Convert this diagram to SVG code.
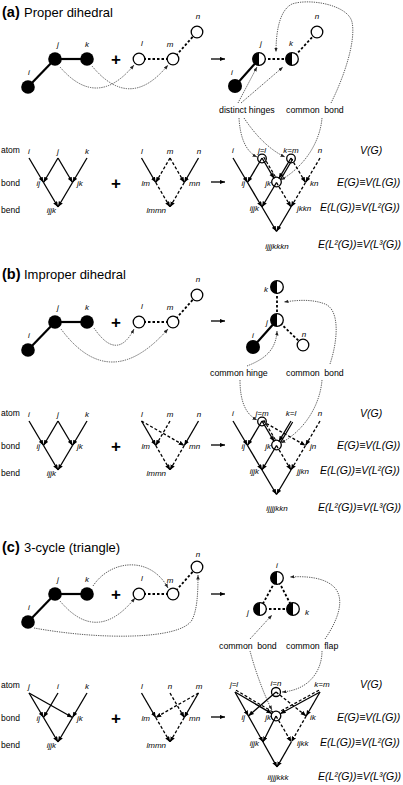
<svg xmlns="http://www.w3.org/2000/svg" width="403" height="785" viewBox="0 0 403 785">
<defs>
<marker id="ah" markerUnits="userSpaceOnUse" markerWidth="6" markerHeight="5" refX="5.5" refY="2.25" orient="auto"><path d="M0,0 L5.5,2.25 L0,4.5 z" fill="#000"/></marker>
<marker id="ag" markerUnits="userSpaceOnUse" markerWidth="5" markerHeight="4" refX="4.5" refY="1.75" orient="auto"><path d="M0,0 L4.5,1.75 L0,3.5 z" fill="#222"/></marker>
<style>
text{font-family:"Liberation Sans",Arial,sans-serif;fill:#000}
.ttl{font-size:13px}
.tb{font-size:14.5px;font-weight:bold}
.lb{font-size:8px;font-style:italic;text-anchor:middle}
.le{font-size:8px;font-style:italic;text-anchor:end}
.ls{font-size:8px;font-style:italic}
.row{font-size:8.5px}
.ann{font-size:8.8px}
.eq{font-size:10.5px;font-style:italic}
.plus{font-size:17px;font-weight:bold;text-anchor:middle}
.sb{stroke:#000;stroke-width:2.2}
.db{stroke:#000;stroke-width:1.8;stroke-dasharray:2.5 2}
.ar{stroke:#000;stroke-width:1.3;marker-end:url(#ah);fill:none}
.ad{stroke:#000;stroke-width:1.3;stroke-dasharray:3 2;marker-end:url(#ah);fill:none}
.p1{stroke:#000;stroke-width:1.2;fill:none}
.p2{stroke:#000;stroke-width:1.2;stroke-dasharray:3 2;fill:none}
.g{stroke:#333;stroke-width:0.8;stroke-dasharray:1.3 1;fill:none;marker-end:url(#ag)}
.bk{fill:#000}
.op{fill:#fff;stroke:#000;stroke-width:1.3}
.ring{fill:none;stroke:#000;stroke-width:1.3}
</style>
</defs>
<rect width="403" height="785" fill="#fff"/>

<!-- ================= CONNECTORS ================= -->
<g id="connectors">
<!-- (a) molecules -->
<line x1="28" y1="87" x2="55" y2="59" class="sb"/>
<line x1="55" y1="59" x2="87" y2="59" class="sb"/>
<line x1="139" y1="59" x2="173" y2="59" class="db"/>
<line x1="173" y1="59" x2="197" y2="32" class="db"/>
<path d="M60,67 Q97,110 134,65" class="g"/>
<path d="M92,66 Q130,112 168,65" class="g"/>
<line x1="211" y1="59" x2="225" y2="59" class="ar"/>
<line x1="235" y1="86" x2="259" y2="59" class="sb"/>
<line x1="259" y1="59" x2="292" y2="59" class="db"/>
<line x1="292" y1="59" x2="317" y2="32" class="db"/>
<line x1="238" y1="103" x2="257" y2="67" class="g"/>
<line x1="241" y1="103" x2="283" y2="67" class="g"/>
<path d="M331,103 C345,75 356,40 352,22 C348,5 310,-2 292,4 C280,10 276,30 276,52" class="g"/>
<!-- (a) graphs -->
<line x1="29" y1="158" x2="43.5" y2="182.5" class="ar"/>
<line x1="58" y1="158" x2="43.5" y2="182.5" class="ar"/>
<line x1="58" y1="158" x2="72.5" y2="182.5" class="ar"/>
<line x1="87" y1="158" x2="72.5" y2="182.5" class="ar"/>
<line x1="43.5" y1="182.5" x2="58" y2="207" class="ar"/>
<line x1="72.5" y1="182.5" x2="58" y2="207" class="ar"/>
<line x1="141.5" y1="158" x2="155.75" y2="182.5" class="ar"/>
<line x1="170" y1="158" x2="155.75" y2="182.5" class="ad"/>
<line x1="170" y1="158" x2="184.25" y2="182.5" class="ad"/>
<line x1="198.5" y1="158" x2="184.25" y2="182.5" class="ar"/>
<line x1="155.75" y1="182.5" x2="170" y2="207" class="ad"/>
<line x1="184.25" y1="182.5" x2="170" y2="207" class="ad"/>
<line x1="211" y1="182" x2="225" y2="182" class="ar"/>
<line x1="233" y1="158" x2="247.5" y2="182.5" class="ar"/>
<line x1="247.5" y1="182.5" x2="262" y2="207" class="ar"/>
<line x1="262" y1="207" x2="276.5" y2="231.5" class="ar"/>
<line x1="262" y1="158" x2="247.5" y2="182.5" class="ar"/>
<line x1="262" y1="158" x2="274.2" y2="178.6" class="ar"/>
<line x1="263.7" y1="157" x2="275.9" y2="177.6" class="p2"/>
<line x1="291" y1="158" x2="278.8" y2="178.6" class="ar"/>
<line x1="292.7" y1="159" x2="280.5" y2="179.6" class="p1"/>
<line x1="291" y1="158" x2="305.5" y2="182.5" class="ad"/>
<line x1="320" y1="158" x2="305.5" y2="182.5" class="ad"/>
<line x1="276.5" y1="182.5" x2="262" y2="207" class="ar"/>
<line x1="276.5" y1="182.5" x2="291" y2="207" class="ad"/>
<line x1="305.5" y1="182.5" x2="291" y2="207" class="ad"/>
<line x1="291" y1="207" x2="276.5" y2="231.5" class="ar"/>
<path d="M239,118 C240,136 245,151 257,157" class="g"/>
<path d="M244,118 C256,136 270,150 285,157" class="g"/>
<path d="M322,118 C320,142 305,166 281,180" class="g"/>

<!-- (b) molecules -->
<line x1="28" y1="350" x2="55" y2="322" class="sb"/>
<line x1="55" y1="322" x2="87" y2="322" class="sb"/>
<line x1="139" y1="322" x2="173" y2="322" class="db"/>
<line x1="173" y1="322" x2="197" y2="295" class="db"/>
<path d="M94,328 Q117,362 134,329" class="g"/>
<path d="M61,329 Q110,395 168,329" class="g"/>
<line x1="211" y1="321" x2="225" y2="321" class="ar"/>
<line x1="277" y1="287" x2="277" y2="320" class="db"/>
<line x1="277" y1="320" x2="253" y2="347" class="sb"/>
<line x1="277" y1="320" x2="303" y2="345" class="db"/>
<path d="M247,366 C262,360 276,352 277,331" class="g"/>
<path d="M330,364 C338,340 340,310 325,304 C312,299 298,300 284,302" class="g"/>
<!-- (b) graphs -->
<line x1="29" y1="421" x2="43.5" y2="445.5" class="ar"/>
<line x1="58" y1="421" x2="43.5" y2="445.5" class="ar"/>
<line x1="58" y1="421" x2="72.5" y2="445.5" class="ar"/>
<line x1="87" y1="421" x2="72.5" y2="445.5" class="ar"/>
<line x1="43.5" y1="445.5" x2="58" y2="470" class="ar"/>
<line x1="72.5" y1="445.5" x2="58" y2="470" class="ar"/>
<line x1="141.5" y1="421" x2="155.75" y2="445.5" class="ar"/>
<line x1="141.5" y1="421" x2="184.25" y2="445.5" class="ad"/>
<line x1="170" y1="421" x2="155.75" y2="445.5" class="ad"/>
<line x1="198.5" y1="421" x2="184.25" y2="445.5" class="ar"/>
<line x1="155.75" y1="445.5" x2="170" y2="470" class="ad"/>
<line x1="184.25" y1="445.5" x2="170" y2="470" class="ad"/>
<line x1="211" y1="445" x2="225" y2="445" class="ar"/>
<line x1="233" y1="421" x2="247.5" y2="445.5" class="ar"/>
<line x1="247.5" y1="445.5" x2="262" y2="470" class="ar"/>
<line x1="262" y1="470" x2="276.5" y2="494.5" class="ar"/>
<line x1="262" y1="421" x2="247.5" y2="445.5" class="ar"/>
<line x1="262" y1="421" x2="274.2" y2="441.6" class="ar"/>
<line x1="263.7" y1="420" x2="275.9" y2="440.6" class="p2"/>
<line x1="262" y1="421" x2="305.5" y2="445.5" class="ad"/>
<line x1="291" y1="421" x2="278.8" y2="441.6" class="ar"/>
<line x1="292.7" y1="422" x2="280.5" y2="442.6" class="p1"/>
<line x1="320" y1="421" x2="305.5" y2="445.5" class="ad"/>
<line x1="276.5" y1="445.5" x2="262" y2="470" class="ar"/>
<line x1="276.5" y1="445.5" x2="291" y2="470" class="ad"/>
<line x1="305.5" y1="445.5" x2="291" y2="470" class="ad"/>
<line x1="291" y1="470" x2="276.5" y2="494.5" class="ar"/>
<path d="M240,380 C240,400 245,414 257,420" class="g"/>
<path d="M322,380 C320,405 305,430 281,443" class="g"/>

<!-- (c) molecules -->
<line x1="28" y1="622" x2="55" y2="594" class="sb"/>
<line x1="55" y1="594" x2="87" y2="594" class="sb"/>
<line x1="139" y1="594" x2="173" y2="594" class="db"/>
<line x1="173" y1="594" x2="197" y2="567" class="db"/>
<path d="M93,586 C110,560 150,555 168,588" class="g"/>
<path d="M60,601 Q97,645 135,598" class="g"/>
<path d="M34,628 C100,640 180,640 192,620 C197,610 198,595 198,575" class="g"/>
<line x1="211" y1="594" x2="225" y2="594" class="ar"/>
<line x1="277" y1="578" x2="260" y2="609" class="db"/>
<line x1="277" y1="578" x2="293" y2="609" class="db"/>
<line x1="260" y1="609" x2="293" y2="609" class="db"/>
<line x1="250" y1="639" x2="272" y2="615" class="g"/>
<path d="M325,639 C338,620 345,600 335,588 C325,577 305,576 290,577" class="g"/>
<!-- (c) graphs -->
<line x1="29" y1="693" x2="43.5" y2="717.5" class="ar"/>
<line x1="29" y1="693" x2="72.5" y2="717.5" class="ar"/>
<line x1="58" y1="693" x2="43.5" y2="717.5" class="ar"/>
<line x1="87" y1="693" x2="72.5" y2="717.5" class="ar"/>
<line x1="43.5" y1="717.5" x2="58" y2="742" class="ar"/>
<line x1="72.5" y1="717.5" x2="58" y2="742" class="ar"/>
<line x1="141.5" y1="693" x2="155.75" y2="717.5" class="ar"/>
<line x1="170" y1="693" x2="184.25" y2="717.5" class="ad"/>
<line x1="198.5" y1="693" x2="155.75" y2="717.5" class="ad"/>
<line x1="198.5" y1="693" x2="184.25" y2="717.5" class="ar"/>
<line x1="155.75" y1="717.5" x2="170" y2="742" class="ad"/>
<line x1="184.25" y1="717.5" x2="170" y2="742" class="ad"/>
<line x1="211" y1="717" x2="225" y2="717" class="ar"/>
<line x1="235" y1="692" x2="248.4" y2="716" class="ar"/>
<line x1="248.4" y1="716" x2="263" y2="742" class="ar"/>
<line x1="263" y1="742" x2="277" y2="767" class="ar"/>
<line x1="235" y1="692" x2="271.9" y2="713.6" class="ar"/>
<line x1="236" y1="690.3" x2="272.9" y2="711.9" class="p2"/>
<line x1="276" y1="692" x2="248.4" y2="716" class="ar"/>
<line x1="276" y1="692" x2="306.2" y2="716" class="ad"/>
<line x1="320" y1="692" x2="280.2" y2="713.7" class="ar"/>
<line x1="319" y1="690.2" x2="279.2" y2="711.9" class="p2"/>
<line x1="320" y1="692" x2="306.2" y2="716" class="ar"/>
<line x1="306.2" y1="716" x2="291.3" y2="742" class="ad"/>
<line x1="276" y1="716" x2="263" y2="742" class="ar"/>
<line x1="276" y1="716" x2="291.3" y2="742" class="ad"/>
<line x1="291.3" y1="742" x2="277" y2="767" class="ar"/>
<path d="M250,651 C255,670 264,695 272,710" class="g"/>
<path d="M322,651 C322,670 310,690 282,692" class="g"/>
</g>

<!-- ================= PANEL (a) ================= -->
<g id="title-a"><text x="2" y="17" class="tb">(a)</text><text x="24" y="17" class="ttl">Proper dihedral</text></g>
<g id="a-i"><circle cx="28" cy="87" r="6.8" class="bk"/><text x="29" y="75" class="lb">i</text></g>
<g id="a-j"><circle cx="55" cy="59" r="6.8" class="bk"/><text x="58" y="47" class="lb">j</text></g>
<g id="a-k"><circle cx="87" cy="59" r="6.8" class="bk"/><text x="87" y="47" class="lb">k</text></g>
<g id="a-plus1"><text x="116" y="65" class="plus">+</text></g>
<g id="a-l"><circle cx="139" cy="59" r="5.8" class="op"/><text x="142" y="46" class="lb">l</text></g>
<g id="a-m"><circle cx="173" cy="59" r="5.8" class="op"/><text x="170" y="47" class="lb">m</text></g>
<g id="a-n"><circle cx="197" cy="32" r="5.8" class="op"/><text x="198" y="19" class="lb">n</text></g>
<g id="a-ri"><circle cx="235" cy="86" r="7" class="bk"/><text x="232" y="75" class="lb">i</text></g>
<g id="a-rj"><circle cx="259" cy="59" r="6.3" class="op"/><path d="M259,52.7 A6.3,6.3 0 0 0 259,65.3 Z" class="bk"/><text x="261" y="46" class="lb">j</text></g>
<g id="a-rk"><circle cx="292" cy="59" r="6.3" class="op"/><path d="M292,52.7 A6.3,6.3 0 0 0 292,65.3 Z" class="bk"/><text x="291" y="46" class="lb">k</text></g>
<g id="a-rn"><circle cx="317" cy="32" r="5.8" class="op"/><text x="317" y="19" class="lb">n</text></g>
<g id="a-ann"><text x="219" y="113" class="ann">distinct hinges</text><text x="286" y="113" class="ann" word-spacing="2">common bond</text></g>
<g id="a-rows"><text x="1" y="153" class="row">atom</text><text x="1" y="186" class="row">bond</text><text x="1" y="213" class="row">bend</text></g>
<g id="a-g1"><text x="29" y="154" class="lb">i</text><text x="58" y="154" class="lb">j</text><text x="87" y="154" class="lb">k</text><text x="40" y="186" class="le">ij</text><text x="77" y="186" class="ls">jk</text><text x="56" y="213" class="le">ijjk</text></g>
<g id="a-plus2"><text x="116" y="189" class="plus">+</text></g>
<g id="a-g2"><text x="142" y="154" class="lb">l</text><text x="170" y="154" class="lb">m</text><text x="199" y="154" class="lb">n</text><text x="150" y="186" class="le">lm</text><text x="189" y="186" class="ls">mn</text><text x="166" y="213" class="le">lmmn</text></g>
<g id="a-v-i"><text x="233" y="153" class="lb">i</text></g>
<g id="a-v-jl"><circle cx="262" cy="158.5" r="4.3" class="ring"/><text x="262" y="152.5" class="lb">j=l</text></g>
<g id="a-v-km"><circle cx="291" cy="158.5" r="4.3" class="ring"/><text x="291" y="152.5" class="lb">k=m</text></g>
<g id="a-v-n"><text x="320" y="153" class="lb">n</text></g>
<g id="a-v-ij"><text x="245" y="186" class="le">ij</text></g>
<g id="a-v-jk"><circle cx="276.5" cy="182" r="4.8" class="ring"/><text x="271" y="186" class="le">jk</text></g>
<g id="a-v-kn"><text x="310" y="186" class="ls">kn</text></g>
<g id="a-v-ijjk"><text x="259" y="211" class="le">ijjk</text></g>
<g id="a-v-jkkn"><text x="297" y="211" class="ls">jkkn</text></g>
<g id="a-v-bot"><text x="277" y="249" class="lb">ijjjkkkn</text></g>
<g id="a-eq"><text x="360" y="154" class="eq">V(G)</text><text x="337" y="186" class="eq">E(G)≡V(L(G))</text><text x="320" y="211" class="eq">E(L(G))≡V(L²(G))</text><text x="318" y="248" class="eq">E(L²(G))≡V(L³(G))</text></g>

<!-- ================= PANEL (b) ================= -->
<g id="title-b"><text x="2" y="279" class="tb">(b)</text><text x="24" y="279" class="ttl">Improper dihedral</text></g>
<g id="b-i"><circle cx="28" cy="350" r="6.8" class="bk"/><text x="29" y="338" class="lb">i</text></g>
<g id="b-j"><circle cx="55" cy="322" r="6.8" class="bk"/><text x="58" y="310" class="lb">j</text></g>
<g id="b-k"><circle cx="87" cy="322" r="6.8" class="bk"/><text x="87" y="310" class="lb">k</text></g>
<g id="b-plus1"><text x="116" y="328" class="plus">+</text></g>
<g id="b-l"><circle cx="139" cy="322" r="5.8" class="op"/><text x="142" y="309" class="lb">l</text></g>
<g id="b-m"><circle cx="173" cy="322" r="5.8" class="op"/><text x="170" y="310" class="lb">m</text></g>
<g id="b-n"><circle cx="197" cy="295" r="5.8" class="op"/><text x="198" y="282" class="lb">n</text></g>
<g id="b-rk"><circle cx="277" cy="287" r="6.3" class="op"/><path d="M277,280.7 A6.3,6.3 0 0 0 277,293.3 Z" class="bk"/><text x="266" y="292" class="lb">k</text></g>
<g id="b-rj"><circle cx="277" cy="320" r="6.3" class="op"/><path d="M277,313.7 A6.3,6.3 0 0 0 277,326.3 Z" class="bk"/><text x="267" y="325" class="lb">j</text></g>
<g id="b-ri"><circle cx="253" cy="347" r="7" class="bk"/><text x="253" y="337.5" class="lb">i</text></g>
<g id="b-rn"><circle cx="303" cy="345" r="5.8" class="op"/><text x="304" y="337" class="lb">n</text></g>
<g id="b-ann"><text x="210" y="376" class="ann">common hinge</text><text x="286" y="376" class="ann" word-spacing="2">common bond</text></g>
<g id="b-rows"><text x="1" y="416" class="row">atom</text><text x="1" y="449" class="row">bond</text><text x="1" y="476" class="row">bend</text></g>
<g id="b-g1"><text x="29" y="417" class="lb">i</text><text x="58" y="417" class="lb">j</text><text x="87" y="417" class="lb">k</text><text x="40" y="449" class="le">ij</text><text x="77" y="449" class="ls">jk</text><text x="56" y="476" class="le">ijjk</text></g>
<g id="b-plus2"><text x="116" y="452" class="plus">+</text></g>
<g id="b-g2"><text x="142" y="417" class="lb">l</text><text x="170" y="417" class="lb">m</text><text x="199" y="417" class="lb">n</text><text x="150" y="449" class="le">lm</text><text x="189" y="449" class="ls">mn</text><text x="166" y="476" class="le">lmmn</text></g>
<g id="b-v-i"><text x="233" y="416" class="lb">i</text></g>
<g id="b-v-jm"><circle cx="262" cy="421.5" r="4.3" class="ring"/><text x="262" y="415.5" class="lb">j=m</text></g>
<g id="b-v-kl"><text x="291" y="416" class="lb">k=l</text></g>
<g id="b-v-n"><text x="320" y="416" class="lb">n</text></g>
<g id="b-v-ij"><text x="245" y="449" class="le">ij</text></g>
<g id="b-v-jk"><circle cx="276.5" cy="445" r="4.8" class="ring"/><text x="271" y="449" class="le">jk</text></g>
<g id="b-v-jn"><text x="310" y="449" class="ls">jn</text></g>
<g id="b-v-ijjk"><text x="259" y="474" class="le">ijjk</text></g>
<g id="b-v-jjkn"><text x="297" y="474" class="ls">jjkn</text></g>
<g id="b-v-bot"><text x="277" y="511" class="lb">ijjjjkkn</text></g>
<g id="b-eq"><text x="360" y="417" class="eq">V(G)</text><text x="337" y="449" class="eq">E(G)≡V(L(G))</text><text x="320" y="474" class="eq">E(L(G))≡V(L²(G))</text><text x="318" y="511" class="eq">E(L²(G))≡V(L³(G))</text></g>

<!-- ================= PANEL (c) ================= -->
<g id="title-c"><text x="2" y="552" class="tb">(c)</text><text x="24" y="552" class="ttl">3-cycle (triangle)</text></g>
<g id="c-i"><circle cx="28" cy="622" r="6.8" class="bk"/><text x="29" y="610" class="lb">i</text></g>
<g id="c-j"><circle cx="55" cy="594" r="6.8" class="bk"/><text x="58" y="582" class="lb">j</text></g>
<g id="c-k"><circle cx="87" cy="594" r="6.8" class="bk"/><text x="87" y="582" class="lb">k</text></g>
<g id="c-plus1"><text x="116" y="600" class="plus">+</text></g>
<g id="c-l"><circle cx="139" cy="594" r="5.8" class="op"/><text x="142" y="581" class="lb">l</text></g>
<g id="c-m"><circle cx="173" cy="594" r="5.8" class="op"/><text x="170" y="583" class="lb">m</text></g>
<g id="c-n"><circle cx="197" cy="567" r="5.8" class="op"/><text x="198" y="557" class="lb">n</text></g>
<g id="c-ri"><circle cx="277" cy="578" r="6.3" class="op"/><path d="M277,571.7 A6.3,6.3 0 0 0 277,584.3 Z" class="bk"/><text x="277" y="568" class="lb">i</text></g>
<g id="c-rj"><circle cx="260" cy="609" r="6.3" class="op"/><path d="M260,602.7 A6.3,6.3 0 0 0 260,615.3 Z" class="bk"/><text x="248" y="615" class="lb">j</text></g>
<g id="c-rk"><circle cx="293" cy="609" r="6.3" class="op"/><path d="M293,602.7 A6.3,6.3 0 0 0 293,615.3 Z" class="bk"/><text x="307" y="615" class="lb">k</text></g>
<g id="c-ann"><text x="219" y="649" class="ann" word-spacing="2">common bond</text><text x="286" y="649" class="ann" word-spacing="2">common flap</text></g>
<g id="c-rows"><text x="1" y="688" class="row">atom</text><text x="1" y="721" class="row">bond</text><text x="1" y="748" class="row">bend</text></g>
<g id="c-g1"><text x="29" y="689" class="lb">j</text><text x="58" y="689" class="lb">i</text><text x="87" y="689" class="lb">k</text><text x="40" y="721" class="le">ij</text><text x="77" y="721" class="ls">jk</text><text x="56" y="748" class="le">ijjk</text></g>
<g id="c-plus2"><text x="116" y="724" class="plus">+</text></g>
<g id="c-g2"><text x="142" y="689" class="lb">l</text><text x="170" y="689" class="lb">n</text><text x="199" y="689" class="lb">m</text><text x="150" y="721" class="le">lm</text><text x="189" y="721" class="ls">mn</text><text x="166" y="748" class="le">lmmn</text></g>
<g id="c-v-jl"><text x="234" y="687" class="lb">j=l</text></g>
<g id="c-v-in"><circle cx="276" cy="692" r="4.5" class="ring"/><text x="276" y="686" class="lb">i=n</text></g>
<g id="c-v-km"><text x="322" y="687" class="lb">k=m</text></g>
<g id="c-v-ij"><text x="245" y="720" class="le">ij</text></g>
<g id="c-v-jk"><circle cx="276" cy="716" r="4.8" class="ring"/><text x="271" y="720" class="le">jk</text></g>
<g id="c-v-ik"><text x="310" y="720" class="ls">ik</text></g>
<g id="c-v-ijjk"><text x="259" y="746" class="le">ijjk</text></g>
<g id="c-v-ijkk"><text x="297" y="746" class="ls">ijkk</text></g>
<g id="c-v-bot"><text x="278" y="780" class="lb">iijjjkkk</text></g>
<g id="c-eq"><text x="360" y="688" class="eq">V(G)</text><text x="337" y="721" class="eq">E(G)≡V(L(G))</text><text x="320" y="746" class="eq">E(L(G))≡V(L²(G))</text><text x="318" y="780" class="eq">E(L²(G))≡V(L³(G))</text></g>
</svg>
